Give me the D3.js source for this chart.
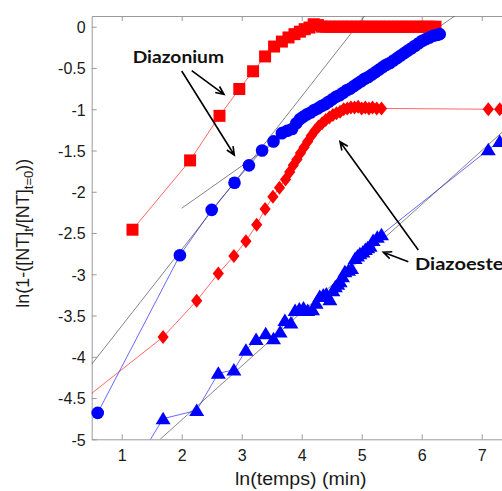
<!DOCTYPE html>
<html><head><meta charset="utf-8">
<script src="https://cdn.jsdelivr.net/npm/d3@7"></script>
<style>
html,body{margin:0;padding:0;background:#fff;overflow:hidden;}
svg{display:block;}
</style></head>
<body>
<svg id="chart" width="502" height="491"></svg>
<script>
// ---- data ----
const xTicks = [1, 2, 3, 4, 5, 6, 7];
const yTicks = [0, -0.5, -1, -1.5, -2, -2.5, -3, -3.5, -4, -4.5, -5];
const yTickLabels = ["0", "-0.5", "-1", "-1.5", "-2", "-2.5", "-3", "-3.5", "-4", "-4.5", "-5"];

// red squares (Diazonium)
const sqX = [1.18, 2.14, 2.63, 2.96, 3.19, 3.39, 3.54, 3.67, 3.78, 3.88, 3.97, 4.05, 4.13, 4.2, 4.27, 4.34,
  4.41, 4.48, 4.55, 4.62, 4.69, 4.76, 4.83, 4.9, 4.97, 5.04, 5.11, 5.18, 5.25, 5.32, 5.39, 5.46, 5.53, 5.6,
  5.67, 5.74, 5.81, 5.88, 5.95, 6.02, 6.09, 6.16, 6.23];
const sqY = [-2.46, -1.62, -1.08, -0.755, -0.54, -0.36, -0.24, -0.18, -0.13, -0.09, -0.06, -0.03, -0.01, 0.03, 0.02, 0.0,
  0, 0, 0, 0, 0, 0, 0, 0, 0, 0, 0, 0, 0, 0, 0, 0, 0, 0,
  0, 0, 0, 0, 0, 0, 0, 0, 0];

// blue circles (Diazonium)
const ciX = [0.6, 1.97, 2.5, 2.88, 3.12, 3.34, 3.53, 3.67, 3.76, 3.84, 3.91, 3.97, 4.03, 4.09, 4.15, 4.21, 4.27,
  4.33, 4.39, 4.45, 4.51, 4.57, 4.63, 4.69, 4.75, 4.81, 4.87, 4.93, 4.99, 5.05, 5.11, 5.17, 5.23, 5.29, 5.35,
  5.41, 5.47, 5.53, 5.59, 5.65, 5.71, 5.77, 5.83, 5.89, 5.95, 6.01, 6.07, 6.13, 6.19, 6.25, 6.3];
const ciY = [-4.68, -2.77, -2.22, -1.89, -1.68, -1.5, -1.39, -1.29, -1.26, -1.24, -1.17, -1.12, -1.09, -1.06, -1.04, -1.01, -0.99,
  -0.96, -0.94, -0.91, -0.88, -0.85, -0.83, -0.80, -0.77, -0.75, -0.72, -0.69, -0.66, -0.63, -0.61, -0.58, -0.55, -0.52, -0.49,
  -0.46, -0.44, -0.41, -0.38, -0.35, -0.32, -0.29, -0.26, -0.23, -0.2, -0.17, -0.15, -0.13, -0.11, -0.10, -0.09];

// red diamonds (Diazoester)
const diX = [0.0, 1.69, 2.25, 2.61, 2.87, 3.07, 3.25, 3.39, 3.52, 3.63, 3.73, 3.8, 3.86, 3.92, 3.98, 4.04, 4.1,
  4.16, 4.22, 4.28, 4.34, 4.4, 4.46, 4.52, 4.58, 4.64, 4.7, 4.76, 4.82, 4.88, 4.94, 5.0, 5.06, 5.12, 5.18,
  5.25, 5.33, 7.11, 7.3];
const diY = [-4.73, -3.76, -3.32, -2.99, -2.78, -2.6, -2.4, -2.21, -2.06, -1.95, -1.85, -1.76, -1.68, -1.61, -1.53, -1.46, -1.39,
  -1.32, -1.26, -1.21, -1.17, -1.13, -1.1, -1.07, -1.05, -1.03, -1.0, -0.99, -0.98, -0.98, -0.97, -0.99, -0.98, -0.99, -0.98,
  -0.99, -0.99, -1.0, -1.0];

// blue triangles (Diazoester)
const trX = [1.1, 1.69, 2.25, 2.61, 2.87, 3.07, 3.24, 3.4, 3.53, 3.64, 3.72, 3.82, 3.89, 3.96, 4.03, 4.1, 4.18,
  4.24, 4.3, 4.36, 4.41, 4.47, 4.52, 4.56, 4.6, 4.64, 4.68, 4.72, 4.78, 4.83, 4.89, 4.93, 4.97, 5.02, 5.06,
  5.1, 5.14, 5.19, 5.26, 5.33, 7.11, 7.3];
const trY = [-5.45, -4.75, -4.65, -4.2, -4.16, -3.92, -3.79, -3.72, -3.78, -3.7, -3.56, -3.59, -3.44, -3.42, -3.41, -3.44, -3.43,
  -3.35, -3.27, -3.25, -3.24, -3.31, -3.2, -3.15, -3.12, -3.09, -3.03, -2.97, -2.95, -2.93, -2.81, -2.78, -2.75, -2.73, -2.7,
  -2.68, -2.66, -2.59, -2.55, -2.52, -1.49, -1.39];

// linear fits (black)
const fitAX = [0.5, 5.05], fitAY = [-4.09, 0.13];
const fitBX = [2.0, 6.55], fitBY = [-2.2, 0.13];
const fitCX = [1.64, 7.6], fitCY = [-5.0, -1.11];

// ---- layout ----
const svg = d3.select("#chart");
const L = 91.7, T = 16, B = 439.3, R = 541.7;
const x = d3.scaleLinear().domain([0.5, 8]).range([L, R]);
const y = d3.scaleLinear().domain([-5, 0.13]).range([B, T]);
const axisCol = "#9a9a9a", textCol = "#1a1a1a";
const tickFont = "Liberation Sans, Arial, sans-serif";

svg.append("defs").append("clipPath").attr("id", "clip")
  .append("rect").attr("x", L).attr("y", T).attr("width", R - L).attr("height", B - T);

// axes
const xAx = svg.append("g").attr("transform", `translate(0,${B})`)
  .call(d3.axisBottom(x).tickValues(xTicks).tickFormat(d3.format("d")).tickSizeInner(-5).tickSizeOuter(0).tickPadding(10));
const xTop = svg.append("g").attr("transform", `translate(0,${T})`)
  .call(d3.axisTop(x).tickValues(xTicks).tickFormat("").tickSizeInner(-5).tickSizeOuter(0));
const yAx = svg.append("g").attr("transform", `translate(${L},0)`)
  .call(d3.axisLeft(y).tickValues(yTicks).tickFormat((d, i) => yTickLabels[i]).tickSizeInner(-5).tickSizeOuter(0).tickPadding(6));
[xAx, xTop, yAx].forEach(g => {
  g.select(".domain").attr("stroke", axisCol).attr("stroke-width", 1);
  g.selectAll(".tick line").attr("stroke", axisCol);
  g.selectAll("text").attr("fill", textCol).style("font-family", tickFont).style("font-size", "16px");
});
xAx.selectAll("text").attr("dy", "0.71em");
yAx.selectAll("text").attr("dy", "0.36em");

// series
const plot = svg.append("g");
const lines = plot.append("g").attr("clip-path", "url(#clip)");
const line = d3.line().x(d => x(d[0])).y(d => y(d[1]));
const zip = (a, b) => a.map((v, i) => [v, b[i]]);
const inside = d => d[0] >= 0.5 && d[1] >= -5.05;

const series = [
  {pts: zip(sqX, sqY), col: "#ff0000", shape: "square"},
  {pts: zip(ciX, ciY), col: "#0000ff", shape: "circle"},
  {pts: zip(diX, diY), col: "#ff0000", shape: "diamond"},
  {pts: zip(trX, trY), col: "#0000ff", shape: "triangle"}
];
const shapes = {
  square: "M-6,-6H6V6H-6Z",
  diamond: "M0,-7L5.6,0L0,7L-5.6,0Z",
  triangle: "M0,-7L7.5,5.5L-7.5,5.5Z"
};
series.forEach(s => {
  lines.append("path").datum(s.pts).attr("d", line)
    .attr("fill", "none").attr("stroke", s.col).attr("stroke-width", 0.6);
});
series.forEach(s => {
  const g = plot.append("g");
  const pts = s.pts.filter(inside);
  if (s.shape === "circle") {
    g.selectAll("circle").data(pts).join("circle")
      .attr("cx", d => x(d[0])).attr("cy", d => y(d[1])).attr("r", 6.3).attr("fill", s.col);
  } else {
    g.selectAll("path").data(pts).join("path")
      .attr("transform", d => `translate(${x(d[0])},${y(d[1])})`)
      .attr("d", shapes[s.shape]).attr("fill", s.col);
  }
});
// fits
[[fitAX, fitAY], [fitBX, fitBY], [fitCX, fitCY]].forEach(f => {
  lines.append("path").datum(zip(f[0], f[1])).attr("d", line)
    .attr("fill", "none").attr("stroke", "#333").attr("stroke-width", 0.6);
});

// axis labels
svg.append("text").attr("x", 300.8).attr("y", 485).attr("text-anchor", "middle")
  .attr("textLength", 131.7).attr("lengthAdjust", "spacingAndGlyphs")
  .style("font-family", tickFont).style("font-size", "18px").attr("fill", textCol)
  .text("ln(temps) (min)");
const yl = svg.append("text").attr("transform", "translate(28.5,233.3) rotate(-90)")
  .attr("text-anchor", "middle").style("font-family", tickFont).style("font-size", "18px").attr("fill", textCol);
yl.append("tspan").text("ln(1-([NT]");
yl.append("tspan").attr("dy", 4).style("font-size", "13px").text("t");
yl.append("tspan").attr("dy", -4).text("/[NT]");
yl.append("tspan").attr("dy", 4).style("font-size", "13px").text("t=0");
yl.append("tspan").attr("dy", -4).text("))");

// annotations
const annFont = "Lato, 'Open Sans', sans-serif";
svg.append("text").attr("x", 132.7).attr("y", 63.3).attr("textLength", 91.3).attr("lengthAdjust", "spacingAndGlyphs")
  .style("font-family", annFont).style("font-weight", "bold").style("font-size", "17px").attr("fill", "#111").text("Diazonium");
svg.append("text").attr("x", 415).attr("y", 270).attr("textLength", 96).attr("lengthAdjust", "spacingAndGlyphs")
  .style("font-family", annFont).style("font-weight", "bold").style("font-size", "17px").attr("fill", "#111").text("Diazoester");

const arrows = [
  [191.7, 70.7, 224, 94.3],
  [181.7, 71, 234.3, 155],
  [418.3, 250, 340, 141.7],
  [408.3, 261.7, 383.3, 252.3]
];
arrows.forEach(a => {
  const [x1, y1, x2, y2] = a;
  const ang = Math.atan2(y2 - y1, x2 - x1);
  const hl = 9, ha = 0.42;
  const p = d3.path();
  p.moveTo(x1, y1); p.lineTo(x2, y2);
  p.moveTo(x2 - hl * Math.cos(ang - ha), y2 - hl * Math.sin(ang - ha));
  p.lineTo(x2, y2);
  p.lineTo(x2 - hl * Math.cos(ang + ha), y2 - hl * Math.sin(ang + ha));
  svg.append("path").attr("d", p.toString()).attr("fill", "none").attr("stroke", "#000").attr("stroke-width", 1.6);
});
</script>
</body></html>
